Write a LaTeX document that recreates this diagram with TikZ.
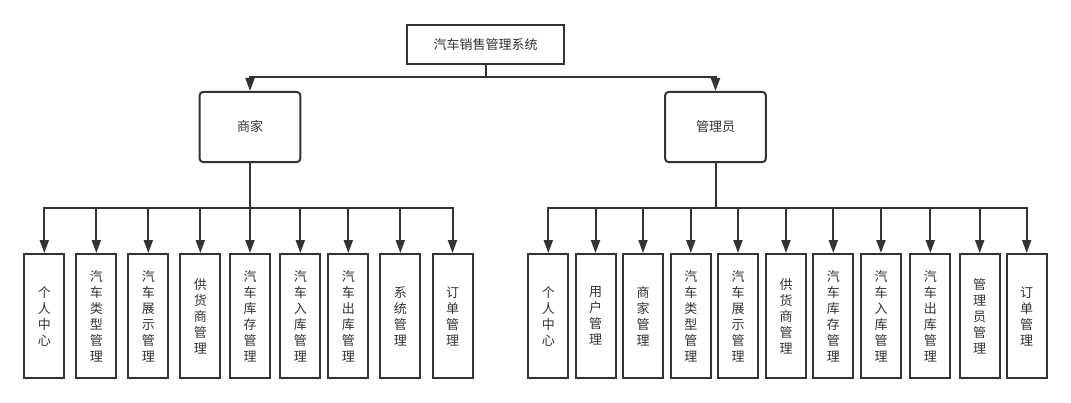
\documentclass[tikz,border=0pt]{standalone}
\usepackage{fontspec}
\setmainfont{Noto Sans CJK SC}
\usetikzlibrary{arrows.meta}
\definecolor{boxline}{HTML}{333333}
\definecolor{boxtext}{HTML}{333333}

\begin{document}
\begin{tikzpicture}[
  x=0.75pt,
  y=-0.75pt,
  every node/.style={font=\fontsize{9.75}{12}\selectfont, text=boxtext},
  topbox/.style={draw=boxline, line width=1.5pt, minimum width=117.75pt, minimum height=29.25pt},
  rolebox/.style={draw=boxline, line width=1.5pt, rounded corners=2.5pt, minimum width=75.5pt, minimum height=52.5pt},
  leafbox/.style={draw=boxline, line width=1.5pt, minimum width=30pt, minimum height=93pt, align=center, inner sep=0pt},
  link/.style={draw=boxline, line width=1.5pt},
  feed/.style={link, -{Triangle[length=9.75pt,width=6.75pt]}}
]
  \useasboundingbox (0,0) rectangle (1071,403);

  \node[topbox] (sys) at (485.5,44.5) {汽车销售管理系统};
  \node[rolebox] (shang) at (250,127) {商家};
  \node[rolebox] (admin) at (715.5,127) {管理员};

  \coordinate (topbus) at (485.5,77);
  \coordinate (mbus) at (250,208);
  \coordinate (abus) at (715.5,208);

  % merchant side
  \foreach \x/\t [count=\i] in {44.3/{个\\人\\中\\心}, 96.3/{汽\\车\\类\\型\\管\\理},
      148.3/{汽\\车\\展\\示\\管\\理}, 200.3/{供\\货\\商\\管\\理}, 250/{汽\\车\\库\\存\\管\\理},
      300.3/{汽\\车\\入\\库\\管\\理}, 348.3/{汽\\车\\出\\库\\管\\理}, 400.3/{系\\统\\管\\理},
      452.5/{订\\单\\管\\理}}
    \node[leafbox] (m\i) at (\x,316) {\t};

  % admin side
  \foreach \x/\t [count=\i] in {548.3/{个\\人\\中\\心}, 595.5/{用\\户\\管\\理},
      643/{商\\家\\管\\理}, 690.8/{汽\\车\\类\\型\\管\\理}, 738/{汽\\车\\展\\示\\管\\理},
      786/{供\\货\\商\\管\\理}, 833.3/{汽\\车\\库\\存\\管\\理}, 881/{汽\\车\\入\\库\\管\\理},
      930.3/{汽\\车\\出\\库\\管\\理}, 979.7/{管\\理\\员\\管\\理}, 1026.7/{订\\单\\管\\理}}
    \node[leafbox] (a\i) at (\x,316) {\t};

  \draw[link] (sys) -- (topbus);
  \draw[feed] (topbus) -| (shang);
  \draw[feed] (topbus) -| (admin);

  \draw[link] (shang) -- (mbus);
  \foreach \i in {1,...,9}
    \draw[feed] (mbus) -| (m\i);

  \draw[link] (admin) -- (abus);
  \foreach \i in {1,...,11}
    \draw[feed] (abus) -| (a\i);
\end{tikzpicture}
\end{document}
